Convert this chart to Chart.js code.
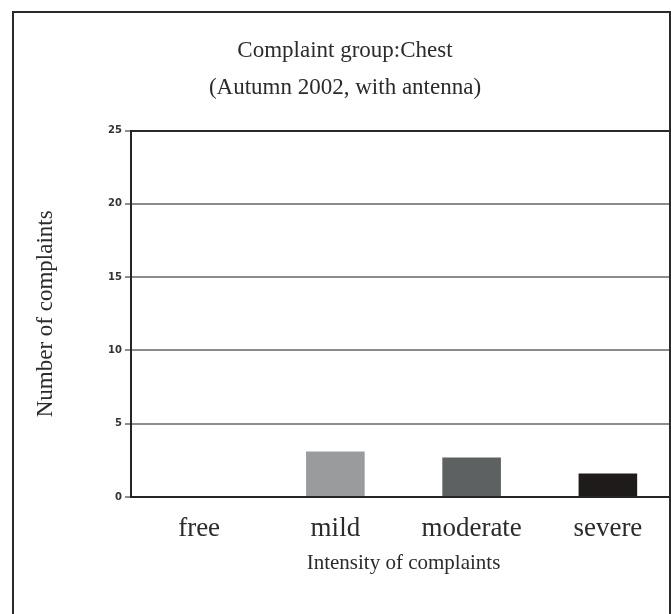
<!DOCTYPE html>
<html>
<head>
<meta charset="utf-8">
<script src="https://cdn.jsdelivr.net/npm/chart.js@4"></script>
<style>
  html, body { margin: 0; padding: 0; background: #fff; overflow: hidden; }
  #wrap { position: relative; width: 671px; height: 614px; overflow: hidden; }
  #frame {
    position: absolute; left: 12px; top: 11px; width: 655px; height: 700px;
    border: 2px solid #2a2a2a; border-bottom: none; pointer-events: none;
  }
  canvas { position: absolute; left: 0; top: 0; }
</style>
</head>
<body>
<div id="wrap">
  <canvas id="chestChart" width="690" height="614"></canvas>
  <div id="frame"></div>
</div>
<script>
const categories = ['free', 'mild', 'moderate', 'severe'];
const complaints = [0, 3.1, 2.7, 1.6];
const yTicks = [0, 5, 10, 15, 20, 25];
const barColors = ['#9a9b9d', '#9a9b9d', '#5e6161', '#1f1b1b'];

document.addEventListener('DOMContentLoaded', function() {
  const ctx = document.getElementById('chestChart').getContext('2d');

  new Chart(ctx, {
    type: 'bar',
    data: {
      labels: categories,
      datasets: [{
        label: 'Number of complaints',
        data: complaints,
        backgroundColor: barColors,
        borderWidth: 0,
        categoryPercentage: 0.86,
        barPercentage: 0.5
      }]
    },
    options: {
      responsive: false,
      animation: false,
      layout: { padding: { left: 14, right: 14, top: 0, bottom: 0 } },
      plugins: {
        legend: { display: false },
        tooltip: { enabled: false },
        title: {
          display: true,
          text: ['Complaint group:Chest', '(Autumn 2002, with antenna)'],
          color: '#2b2b2b',
          font: { family: 'Liberation Serif', size: 23, weight: 'normal', lineHeight: 1.6 },
          padding: { top: 33, bottom: 24 }
        }
      },
      scales: {
        x: {
          grid: { display: false, drawTicks: false },
          border: { color: '#252525', width: 2 },
          ticks: {
            color: '#2b2b2b',
            padding: 16,
            font: { family: 'Liberation Serif', size: 27 }
          },
          title: {
            display: true,
            text: 'Intensity of complaints',
            color: '#2b2b2b',
            font: { family: 'Liberation Serif', size: 21 },
            padding: { top: 0, bottom: 38 },
            align: 'center'
          },
          afterFit: function(scale) { scale.height = 117; }
        },
        y: {
          min: 0,
          max: 25,
          afterBuildTicks: function(scale) {
            scale.ticks = yTicks.map(v => ({ value: v }));
          },
          grid: {
            color: ctx => ctx.tick && ctx.tick.value === 25 ? '#2a2a2a' : '#8c8c8c',
            lineWidth: 2,
            tickLength: 6,
            tickColor: '#8c8c8c'
          },
          border: { color: '#252525', width: 2 },
          ticks: {
            color: '#333',
            padding: 3,
            font: { family: 'DejaVu Sans', size: 10, weight: 'bold' }
          },
          title: {
            display: true,
            text: 'Number of complaints',
            color: '#2b2b2b',
            font: { family: 'Liberation Serif', size: 23 },
            padding: { top: 18, bottom: 0 }
          },
          afterFit: function(scale) { scale.width = 117; }
        }
      }
    }
  });
});
</script>
</body>
</html>
